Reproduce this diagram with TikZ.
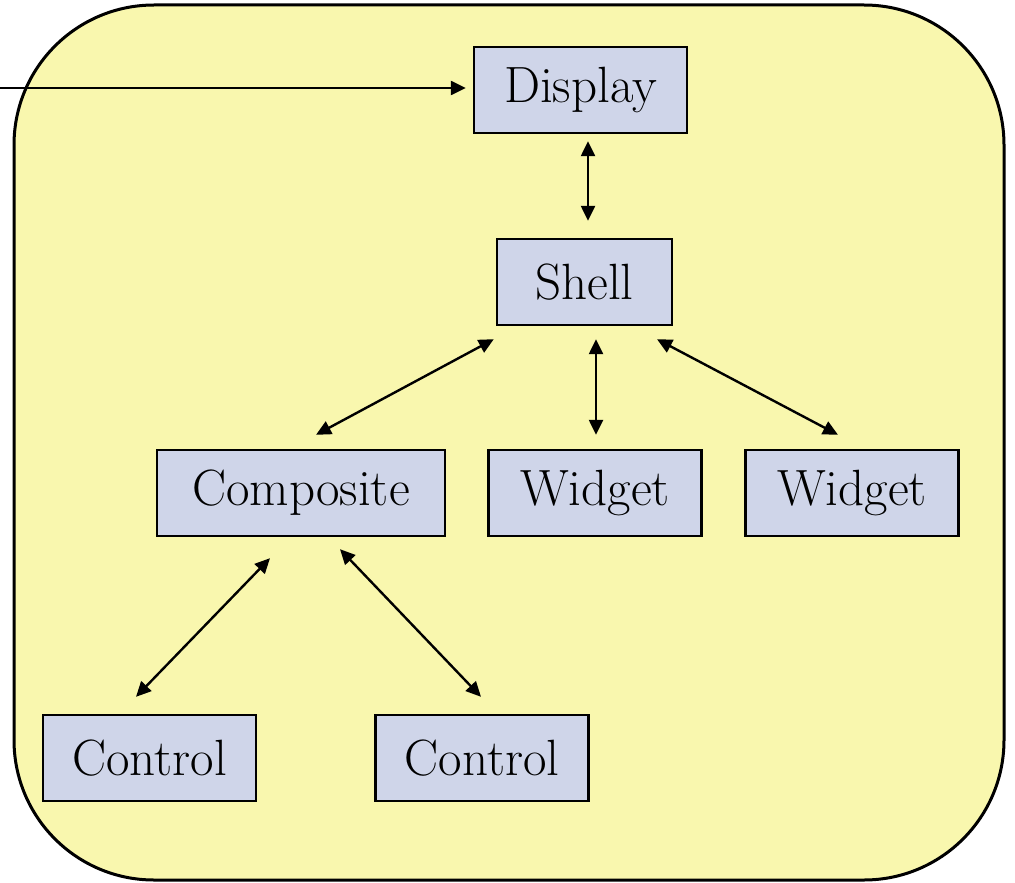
\documentclass[tikz,border=0pt]{standalone}
\usetikzlibrary{arrows.meta}
\definecolor{outerfill}{RGB}{249,247,174}
\definecolor{boxfill}{RGB}{207,213,233}
\begin{document}
\begin{tikzpicture}[x=1pt,y=-1pt,
  box/.style={draw=black, line width=2.4pt, fill=boxfill, inner sep=0pt,
    minimum width=213pt, minimum height=86pt, font=\fontsize{51}{56}\selectfont},
  arr/.style={line width=2.4pt, {Triangle[length=15pt,width=14pt]}-{Triangle[length=15pt,width=14pt]}},
  oneway/.style={line width=2.4pt, -{Triangle[length=15pt,width=14pt]}}]
\useasboundingbox (0,0) rectangle (1015,883);
\draw[line width=3pt, fill=outerfill, rounded corners=140pt] (14,5) rectangle (1004,880);
\node[box] (display) at (580.5,90) {Display};
\node[box, minimum width=175pt] (shell) at (584.5,282) {Shell};
\node[box, minimum width=288pt] (comp) at (301,493) {Composite};
\node[box] (w1) at (595,493) {Widget};
\node[box] (w2) at (852,493) {Widget};
\node[box] (c1) at (149.5,758) {Control};
\node[box] (c2) at (482,758) {Control};
\coordinate (in) at (0,88);
\draw[oneway] (in) -- ([shift={(-7,-2)}]display.west);
\draw[arr] ([shift={(7.5,7)}]display.south) -- ([shift={(3.5,-17)}]shell.north);
\draw[arr] ([shift={(-2,13)}]shell.south west) -- ([shift={(15,-14)}]comp.north);
\draw[arr] ([shift={(11.5,13)}]shell.south) -- ([shift={(1,-14)}]w1.north);
\draw[arr] ([shift={(72.5,13)}]shell.south) -- ([shift={(-14,-14)}]w2.north);
\draw[arr] ([shift={(-31,21)}]comp.south) -- ([shift={(-13.5,-17)}]c1.north);
\draw[arr] ([shift={(39,12)}]comp.south) -- ([shift={(-1,-17)}]c2.north);
\end{tikzpicture}
\end{document}
